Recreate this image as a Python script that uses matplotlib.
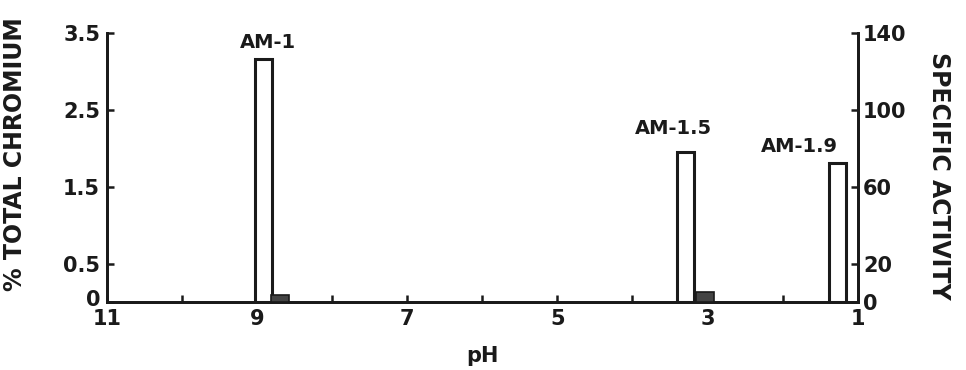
import matplotlib.pyplot as plt
import matplotlib.transforms as mtransforms
from matplotlib.ticker import FixedLocator

plt.rcParams['font.family'] = ['DejaVu Sans']
plt.rcParams['font.weight'] = 'bold'

# fractions (open bars, left axis) and specific activity (filled bars, right axis)
frac_names = ["AM-1", "AM-1.5", "AM-1.9"]
frac_ph = [8.92, 3.29, 1.27]
frac_chromium = [3.16, 1.95, 1.81]
act_ph = [8.70, 3.03]
act_values = [3.5, 5.0]

ph_ticks = [11, 9, 7, 5, 3, 1]
ph_minor = [10, 8, 6, 4, 2]
chrom_ticks = [0, 0.5, 1.5, 2.5, 3.5]
chrom_labels = ["0", "0.5", "1.5", "2.5", "3.5"]
act_ticks = [0, 20, 60, 100, 140]

ink = '#1a1a1a'

fig = plt.figure(figsize=(9.66, 3.7), dpi=100)
ax = fig.add_axes([0.1108, 0.1838, 0.777, 0.727])
ax2 = ax.twinx()

# open bars for % total chromium
ax.bar(frac_ph, frac_chromium, width=0.23, facecolor='white',
       edgecolor=ink, linewidth=2.2, zorder=3)
# filled bars for specific activity
ax2.bar(act_ph, act_values, width=0.24, facecolor='#444444',
        edgecolor=ink, linewidth=1.2, zorder=3)

# labels above the bars
for name, x, y in zip(frac_names, [8.86, 3.46, 1.77], [3.38, 2.26, 2.02]):
    ax.text(x, y, name, ha='center', va='center', fontsize=14,
            fontweight='bold', color=ink)

ax.set_xlim(11, 1)
ax.set_ylim(0, 3.5)
ax2.set_ylim(0, 140)

ax.xaxis.set_major_locator(FixedLocator(ph_ticks))
ax.xaxis.set_minor_locator(FixedLocator(ph_minor))
ax.set_xticklabels([str(t) for t in ph_ticks])
ax.set_yticks(chrom_ticks)
ax.set_yticklabels(chrom_labels)
ax2.set_yticks(act_ticks)

ax.tick_params(axis='x', which='both', direction='in', length=5, width=1.8,
               labelsize=15, pad=5, colors=ink)
ax.tick_params(axis='y', direction='in', length=5, width=1.8,
               labelsize=15, pad=5, colors=ink)
ax2.tick_params(axis='y', direction='in', length=5, width=1.8,
                labelsize=15, pad=4, colors=ink)

# the "0" on the left axis sits a little higher, clear of the "11"
zero_lbl = ax.get_yticklabels()[0]
zero_lbl.set_transform(zero_lbl.get_transform() +
                       mtransforms.ScaledTranslation(0, 3 / 72, fig.dpi_scale_trans))

for a in (ax, ax2):
    a.spines['top'].set_visible(False)
    for s in ('left', 'right', 'bottom'):
        a.spines[s].set_linewidth(2)
        a.spines[s].set_color(ink)

ax.set_xlabel("pH", fontsize=15, fontweight='bold', labelpad=12, color=ink)
ax.set_ylabel("% TOTAL CHROMIUM", fontsize=17, fontweight='bold', color=ink)
ax.yaxis.set_label_coords(-0.106, 0.55)
ax2.set_ylabel("SPECIFIC ACTIVITY", fontsize=17, fontweight='bold',
               rotation=270, va='center', color=ink)
ax2.yaxis.set_label_coords(1.108, 0.47)

fig.savefig("out.png", dpi=100, facecolor='white')
